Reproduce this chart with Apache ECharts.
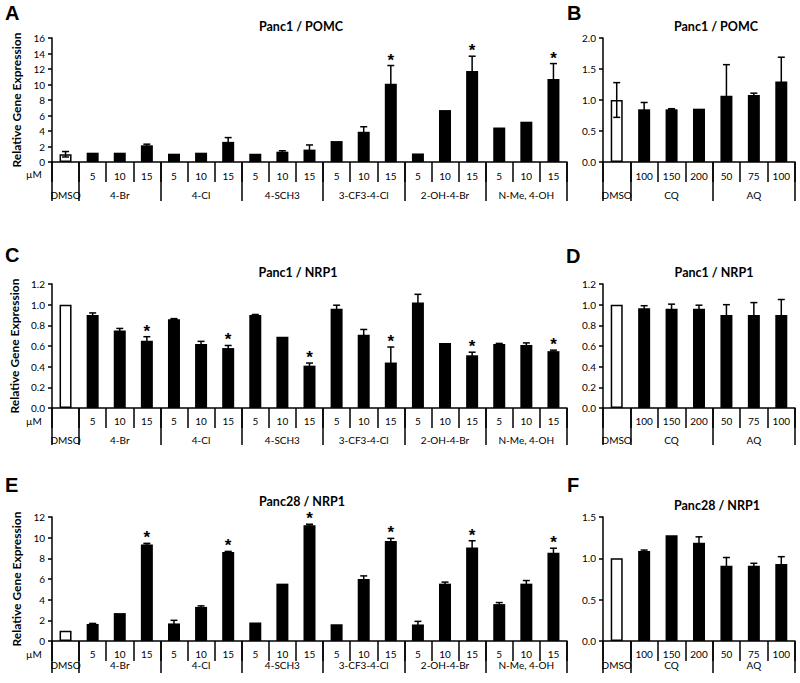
<!DOCTYPE html>
<html><head><meta charset="utf-8">
<script src="https://cdn.jsdelivr.net/npm/echarts@6/dist/echarts.min.js"></script>
<style>html,body{margin:0;padding:0;background:#fff}#c{width:800px;height:683px}</style>
</head><body><div id="c"></div>
<script>
// ---------- categories ----------
const compounds = ['4-Br', '4-Cl', '4-SCH3', '3-CF3-4-Cl', '2-OH-4-Br', 'N-Me, 4-OH'];
const compoundDoses = ['5', '10', '15'];
const quinolines = ['CQ', 'AQ'];
const quinolineDoses = [['100', '150', '200'], ['50', '75', '100']];

// ---------- y axis ranges [min, max, interval, decimals] ----------
const yAxisA = [0, 16, 2, 0];
const yAxisB = [0, 2, 0.5, 1];
const yAxisC = [0, 1.2, 0.2, 1];
const yAxisD = [0, 1.2, 0.2, 1];
const yAxisE = [0, 12, 2, 0];
const yAxisF = [0, 1.5, 0.5, 1];

// ---------- values (DMSO first) ----------
const valuesA = [1.0, 1.2, 1.2, 2.15, 1.07, 1.2, 2.6, 1.07, 1.33, 1.6, 2.7, 3.9, 10.1, 1.1, 6.7, 11.75, 4.45, 5.2, 10.7];
const errorsA = [0.35, 0, 0, 0.15, 0, 0, 0.55, 0, 0.12, 0.6, 0, 0.65, 2.35, 0, 0, 1.9, 0, 0, 2.0];
const sigA = [12, 15, 18];

const valuesB = [1.0, 0.85, 0.85, 0.86, 1.07, 1.08, 1.3];
const errorsB = [0.28, 0.11, 0.01, 0, 0.5, 0.03, 0.39];
const sigB = [];

const valuesC = [1.0, 0.9, 0.75, 0.65, 0.86, 0.62, 0.58, 0.9, 0.69, 0.41, 0.96, 0.71, 0.44, 1.02, 0.63, 0.51, 0.62, 0.61, 0.55];
const errorsC = [0, 0.02, 0.02, 0.04, 0.005, 0.025, 0.025, 0.005, 0, 0.025, 0.035, 0.05, 0.15, 0.08, 0, 0.03, 0.005, 0.02, 0.01];
const sigC = [3, 6, 9, 12, 15, 18];

const valuesD = [1.0, 0.965, 0.96, 0.96, 0.9, 0.9, 0.9];
const errorsD = [0, 0.025, 0.045, 0.035, 0.1, 0.12, 0.15];
const sigD = [];

const valuesE = [1.0, 1.65, 2.7, 9.35, 1.7, 3.3, 8.62, 1.8, 5.55, 11.2, 1.62, 6.0, 9.68, 1.6, 5.55, 9.05, 3.57, 5.55, 8.53];
const errorsE = [0, 0.05, 0, 0.1, 0.3, 0.1, 0.05, 0, 0, 0.1, 0, 0.3, 0.25, 0.3, 0.15, 0.65, 0.15, 0.3, 0.45];
const sigE = [3, 6, 9, 12, 15, 18];

const valuesF = [1.0, 1.09, 1.28, 1.19, 0.91, 0.91, 0.93];
const errorsF = [0, 0.01, 0, 0.07, 0.1, 0.03, 0.09];
const sigF = [];

// ---------- build categories ----------
const wideCats = ['DMSO'];
compounds.forEach(c => compoundDoses.forEach(d => wideCats.push(c + '|' + d)));
const narrowCats = ['DMSO'];
quinolines.forEach((q, k) => quinolineDoses[k].forEach(d => narrowCats.push(q + '|' + d)));

function groupLabels(cats) {
  const out = cats.map(() => '');
  out[0] = 'DMSO';
  const groups = {};
  const order = [];
  cats.forEach((c, i) => {
    if (i === 0) return;
    const g = c.split('|')[0];
    if (!groups[g]) { groups[g] = []; order.push(g); }
    groups[g].push(i);
  });
  order.forEach(g => { const ids = groups[g]; out[ids[Math.floor(ids.length / 2)]] = g; });
  return out;
}
function isGroupStart(cats, i) {
  if (i <= 1) return true;
  return cats[i].split('|')[0] !== cats[i - 1].split('|')[0];
}

const FONT = 'Lato';
const panels = [
  { cats: wideCats, vals: valuesA, errs: errorsA, sig: sigA, y: yAxisA, g: { left: 52, width: 515, top: 38, height: 124 }, shortTick: 20, longTick: 39, rowMargin: 9, groupMargin: 28, yName: true },
  { cats: narrowCats, vals: valuesB, errs: errorsB, sig: sigB, y: yAxisB, g: { left: 603, width: 192, top: 38, height: 124 }, shortTick: 20, longTick: 39, rowMargin: 9, groupMargin: 28, yName: false },
  { cats: wideCats, vals: valuesC, errs: errorsC, sig: sigC, y: yAxisC, g: { left: 52, width: 515, top: 284, height: 124 }, shortTick: 20, longTick: 37, rowMargin: 8, groupMargin: 27, yName: true },
  { cats: narrowCats, vals: valuesD, errs: errorsD, sig: sigD, y: yAxisD, g: { left: 603, width: 192, top: 284, height: 124 }, shortTick: 20, longTick: 37, rowMargin: 8, groupMargin: 27, yName: false },
  { cats: wideCats, vals: valuesE, errs: errorsE, sig: sigE, y: yAxisE, g: { left: 52, width: 515, top: 517, height: 124 }, shortTick: 20, longTick: 32, rowMargin: 8, groupMargin: 19, yName: true },
  { cats: narrowCats, vals: valuesF, errs: errorsF, sig: sigF, y: yAxisF, g: { left: 603, width: 192, top: 517, height: 124 }, shortTick: 20, longTick: 32, rowMargin: 8, groupMargin: 19, yName: false }
];

const grids = [], xAxes = [], yAxes = [], series = [];
panels.forEach((p, k) => {
  grids.push({ left: p.g.left, top: p.g.top, width: p.g.width, height: p.g.height });
  const gl = groupLabels(p.cats);
  xAxes.push({
    type: 'category', gridIndex: k, data: p.cats, position: 'bottom',
    axisLine: { show: true, onZero: false, lineStyle: { color: '#000', width: 1.5 } },
    axisTick: { show: true, length: p.shortTick, lineStyle: { color: '#000', width: 1.5 } },
    axisLabel: { interval: 0, margin: p.rowMargin, color: '#000', fontSize: 10, fontFamily: FONT,
      formatter: v => v === 'DMSO' ? '' : v.split('|')[1] },
    splitLine: { show: false }
  });
  xAxes.push({
    type: 'category', gridIndex: k, data: p.cats, position: 'bottom',
    axisLine: { show: false, onZero: false },
    axisTick: { show: true, length: p.longTick, interval: (i) => isGroupStart(p.cats, i), lineStyle: { color: '#000', width: 1.5 } },
    axisLabel: { interval: 0, margin: p.groupMargin, color: '#000', fontSize: 10, fontFamily: FONT,
      formatter: (v, i) => gl[i] },
    splitLine: { show: false }
  });
  yAxes.push({
    type: 'value', gridIndex: k, min: p.y[0], max: p.y[1], interval: p.y[2],
    name: p.yName ? 'Relative Gene Expression' : '', nameLocation: 'middle', nameGap: 26,
    nameTextStyle: { color: '#000', fontWeight: 'bold', fontSize: 12, fontFamily: FONT },
    axisLine: { show: true, lineStyle: { color: '#000', width: 1.5 } },
    axisTick: { show: true, length: 4, lineStyle: { color: '#000', width: 1.5 } },
    axisLabel: { color: '#000', fontSize: 10, fontFamily: FONT, margin: 7,
      formatter: v => v.toFixed(p.y[3]) },
    splitLine: { show: false }
  });
  series.push({
    type: 'bar', xAxisIndex: 2 * k, yAxisIndex: k, barWidth: 12, silent: true,
    itemStyle: { color: '#000' },
    data: p.vals.map((v, i) => i === 0 ? { value: v, itemStyle: { color: '#fff', borderColor: '#000', borderWidth: 1.5 } } : v)
  });
  series.push({
    type: 'custom', xAxisIndex: 2 * k, yAxisIndex: k, silent: true, z: 5,
    data: p.vals.map((v, i) => [i, v, p.errs[i], p.sig.indexOf(i) >= 0 ? 1 : 0]),
    renderItem: (params, api) => {
      const x = api.value(0), v = api.value(1), e = api.value(2), s = api.value(3);
      const top = api.coord([x, v + e]);
      const bot = api.coord([x, v - e]);
      const children = [];
      const st = { stroke: '#000', lineWidth: 1.5 };
      if (e > 0) {
        children.push({ type: 'line', shape: { x1: top[0], y1: top[1], x2: bot[0], y2: bot[1] }, style: st });
        children.push({ type: 'line', shape: { x1: top[0] - 3.5, y1: top[1], x2: top[0] + 3.5, y2: top[1] }, style: st });
        children.push({ type: 'line', shape: { x1: bot[0] - 3.5, y1: bot[1], x2: bot[0] + 3.5, y2: bot[1] }, style: st });
      }
      if (s) {
        children.push({ type: 'text', style: { text: '*', x: top[0], y: top[1] + 3, fill: '#000',
          font: 'bold 17px "Liberation Sans", Arial, sans-serif', textAlign: 'center', textVerticalAlign: 'bottom' } });
      }
      return { type: 'group', children };
    }
  });
});

function txt(text, x, y, font, align) {
  return { type: 'text', x: x, y: y, silent: true,
    style: { text: text, fill: '#000', font: font, textAlign: align || 'center', textVerticalAlign: 'middle' } };
}
const letterFont = 'bold 20px "Liberation Sans", Arial, sans-serif';
const titleFont = 'bold 12.5px Lato, sans-serif';
const muFont = '10px Lato, sans-serif';
const graphics = [
  txt('A', 5, 13, letterFont, 'left'), txt('B', 567, 13, letterFont, 'left'),
  txt('C', 5, 255, letterFont, 'left'), txt('D', 566, 256, letterFont, 'left'),
  txt('E', 5, 485, letterFont, 'left'), txt('F', 567, 485, letterFont, 'left'),
  txt('Panc1 / POMC', 301, 26, titleFont), txt('Panc1 / POMC', 716, 26, titleFont),
  txt('Panc1 / NRP1', 298, 272, titleFont), txt('Panc1 / NRP1', 714, 272, titleFont),
  txt('Panc28 / NRP1', 302, 501, titleFont), txt('Panc28 / NRP1', 717, 505, titleFont),
  txt('µM', 34, 174, muFont), txt('µM', 34, 421, muFont), txt('µM', 34, 654, muFont)
];

const chart = echarts.init(document.getElementById('c'), null, { renderer: 'svg' });
chart.setOption({
  animation: false,
  backgroundColor: '#fff',
  grid: grids, xAxis: xAxes, yAxis: yAxes, series: series,
  graphic: { elements: graphics }
});
</script>
</body></html>
